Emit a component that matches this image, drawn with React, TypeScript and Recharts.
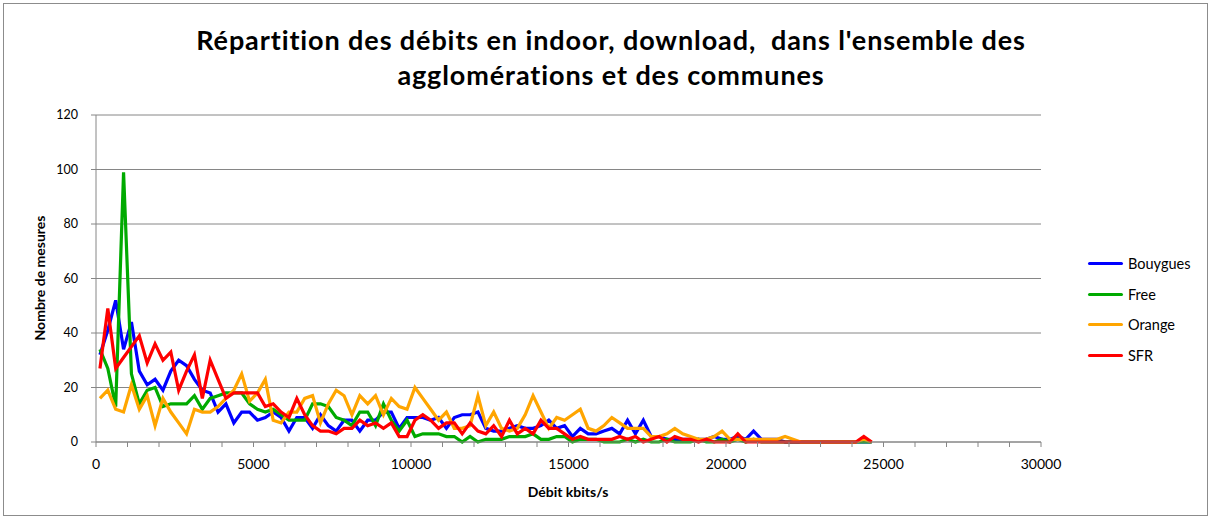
import { LineChart, Line, XAxis, YAxis, CartesianGrid } from 'recharts'

// bin centres, kbits/s
const debits = [
  125, 375, 625, 875, 1125, 1375, 1625, 1875, 2125, 2375,
  2625, 2875, 3125, 3375, 3625, 3875, 4125, 4375, 4625, 4875,
  5125, 5375, 5625, 5875, 6125, 6375, 6625, 6875, 7125, 7375,
  7625, 7875, 8125, 8375, 8625, 8875, 9125, 9375, 9625, 9875,
  10125, 10375, 10625, 10875, 11125, 11375, 11625, 11875, 12125, 12375,
  12625, 12875, 13125, 13375, 13625, 13875, 14125, 14375, 14625, 14875,
  15125, 15375, 15625, 15875, 16125, 16375, 16625, 16875, 17125, 17375,
  17625, 17875, 18125, 18375, 18625, 18875, 19125, 19375, 19625, 19875,
  20125, 20375, 20625, 20875, 21125, 21375, 21625, 21875, 22125, 22375,
  22625, 22875, 23125, 23375, 23625, 23875, 24125, 24375, 24625,
]

const bouygues = [
  32, 41, 52, 34, 44, 26, 21, 23, 19, 26,
  30, 28, 23, 19, 18, 11, 14, 7, 11, 11,
  8, 9, 11, 9, 4, 9, 9, 5, 10, 6,
  4, 8, 8, 4, 8, 8, 11, 11, 5, 9,
  9, 9, 8, 9, 5, 9, 10, 10, 11, 5,
  4, 4, 5, 6, 5, 5, 6, 8, 5, 6,
  2, 5, 3, 3, 4, 5, 3, 8, 3, 8,
  2, 2, 1, 1, 1, 1, 1, 1, 2, 1,
  1, 2, 1, 4, 1, 1, 1, 0, 0, 0,
  0, 0, 0, 0, 0, 0, 0, 0, 0,
]

const free = [
  34, 27, 13, 99, 25, 14, 19, 20, 13, 14,
  14, 14, 17, 12, 16, 17, 18, 18, 18, 14,
  12, 11, 12, 10, 8, 8, 8, 14, 14, 13,
  9, 8, 6, 11, 11, 6, 14, 8, 4, 8,
  2, 3, 3, 3, 2, 2, 0, 2, 0, 1,
  1, 1, 2, 2, 2, 3, 1, 1, 2, 2,
  0, 1, 1, 1, 0, 0, 0, 1, 0, 1,
  0, 0, 1, 0, 0, 0, 1, 0, 0, 1,
  0, 1, 0, 1, 0, 0, 0, 0, 0, 0,
  0, 0, 0, 0, 0, 0, 0, 0, 0,
]

const orange = [
  16, 19, 12, 11, 21, 12, 17, 6, 16, 11,
  7, 3, 12, 11, 11, 13, 16, 19, 25, 15,
  18, 23, 8, 7, 11, 11, 16, 17, 7, 14,
  19, 17, 10, 17, 14, 17, 10, 16, 13, 12,
  20, 16, 12, 8, 11, 5, 5, 6, 17, 6,
  11, 5, 4, 5, 10, 17, 11, 5, 9, 8,
  10, 12, 5, 4, 6, 9, 7, 5, 5, 5,
  2, 2, 3, 5, 3, 2, 1, 1, 2, 4,
  1, 1, 1, 1, 1, 1, 1, 2, 1, 0,
  0, 0, 0, 0, 0, 0, 0, 1, 0,
]

const sfr = [
  27, 49, 27, 31, 35, 39, 29, 36, 30, 33,
  19, 26, 32, 16, 30, 23, 16, 18, 18, 18,
  18, 13, 14, 11, 9, 16, 10, 6, 4, 4,
  3, 5, 5, 8, 6, 7, 5, 7, 2, 2,
  8, 10, 8, 5, 7, 7, 3, 7, 4, 3,
  6, 2, 8, 3, 5, 3, 8, 5, 5, 3,
  1, 2, 1, 1, 1, 1, 2, 1, 2, 0,
  1, 2, 0, 2, 1, 1, 0, 1, 0, 0,
  0, 3, 0, 0, 0, 0, 0, 0, 0, 0,
  0, 0, 0, 0, 0, 0, 0, 2, 0,
]

const xTicks = [
  0, 1000, 2000, 3000, 4000, 5000, 6000, 7000, 8000, 9000, 10000,
  11000, 12000, 13000, 14000, 15000, 16000, 17000, 18000, 19000, 20000,
  21000, 22000, 23000, 24000, 25000, 26000, 27000, 28000, 29000, 30000,
]
const yTicks = [0, 20, 40, 60, 80, 100, 120]

const seriesNames = ['Bouygues', 'Free', 'Orange', 'SFR']
const seriesColors = ['#0000ff', '#00aa00', '#ffa500', '#ff0000']

const data = debits.map((d, i) => ({
  debit: d,
  Bouygues: bouygues[i],
  Free: free[i],
  Orange: orange[i],
  SFR: sfr[i],
}))

const FONT = 'Lato, "Open Sans", sans-serif'
const AXIS = '#868686'

export default function App() {
  return (
    <div
      style={{
        position: 'fixed',
        left: 0,
        top: 0,
        width: 1211,
        height: 518,
        background: '#fff',
        fontFamily: FONT,
        color: '#000',
      }}
    >
      <div
        style={{
          position: 'absolute',
          left: 3,
          top: 3,
          width: 1203,
          height: 511,
          border: '1px solid #8c8c8c',
        }}
      />
      <div
        style={{
          position: 'absolute',
          left: 0,
          width: 1222,
          top: 22,
          textAlign: 'center',
          fontWeight: 'bold',
          fontSize: 27,
          letterSpacing: 0.9,
          lineHeight: '35px',
          whiteSpace: 'pre',
        }}
      >
        {"Répartition des débits en indoor, download,  dans l'ensemble des\nagglomérations et des communes"}
      </div>
      <div
        style={{
          position: 'absolute',
          left: 468,
          width: 200,
          top: 483,
          textAlign: 'center',
          fontWeight: 'bold',
          fontSize: 14,
        }}
      >
        Débit kbits/s
      </div>
      <div
        style={{
          position: 'absolute',
          left: 40,
          top: 278,
          width: 200,
          marginLeft: -100,
          marginTop: -9,
          textAlign: 'center',
          fontWeight: 'bold',
          fontSize: 14,
          lineHeight: '18px',
          transform: 'rotate(-90deg)',
        }}
      >
        Nombre de mesures
      </div>
      <div style={{ position: 'absolute', left: 1088, top: 248, fontSize: 14.5 }}>
        {seriesNames.map((name, i) => (
          <div key={name} style={{ display: 'flex', alignItems: 'center', height: 30.7 }}>
            <span
              style={{
                display: 'inline-block',
                width: 35,
                height: 3,
                borderRadius: 2,
                background: seriesColors[i],
                marginRight: 5,
              }}
            />
            {name}
          </div>
        ))}
      </div>
      <div style={{ position: 'absolute', left: 0, top: 0 }}>
        <LineChart
          width={1211}
          height={518}
          data={data}
          margin={{ top: 115, right: 170, left: 36, bottom: 46 }}
        >
          <CartesianGrid vertical={false} stroke={AXIS} strokeWidth={1} />
          <XAxis
            dataKey="debit"
            type="number"
            domain={[0, 30000]}
            ticks={xTicks}
            interval={0}
            height={30}
            tickSize={5}
            tickMargin={12}
            stroke={AXIS}
            tick={{ fontSize: 14, fill: '#000', fontFamily: FONT }}
            tickFormatter={(v: number) => (v % 5000 === 0 ? String(v) : '')}
          />
          <YAxis
            domain={[0, 120]}
            ticks={yTicks}
            interval={0}
            width={60}
            tickSize={5}
            tickMargin={13}
            stroke={AXIS}
            tick={{ fontSize: 12.5, fill: '#000', fontFamily: FONT }}
          />
          {seriesNames.map((name, i) => (
            <Line
              key={name}
              type="linear"
              dataKey={name}
              stroke={seriesColors[i]}
              strokeWidth={3.2}
              dot={false}
              isAnimationActive={false}
            />
          ))}
        </LineChart>
      </div>
    </div>
  )
}
